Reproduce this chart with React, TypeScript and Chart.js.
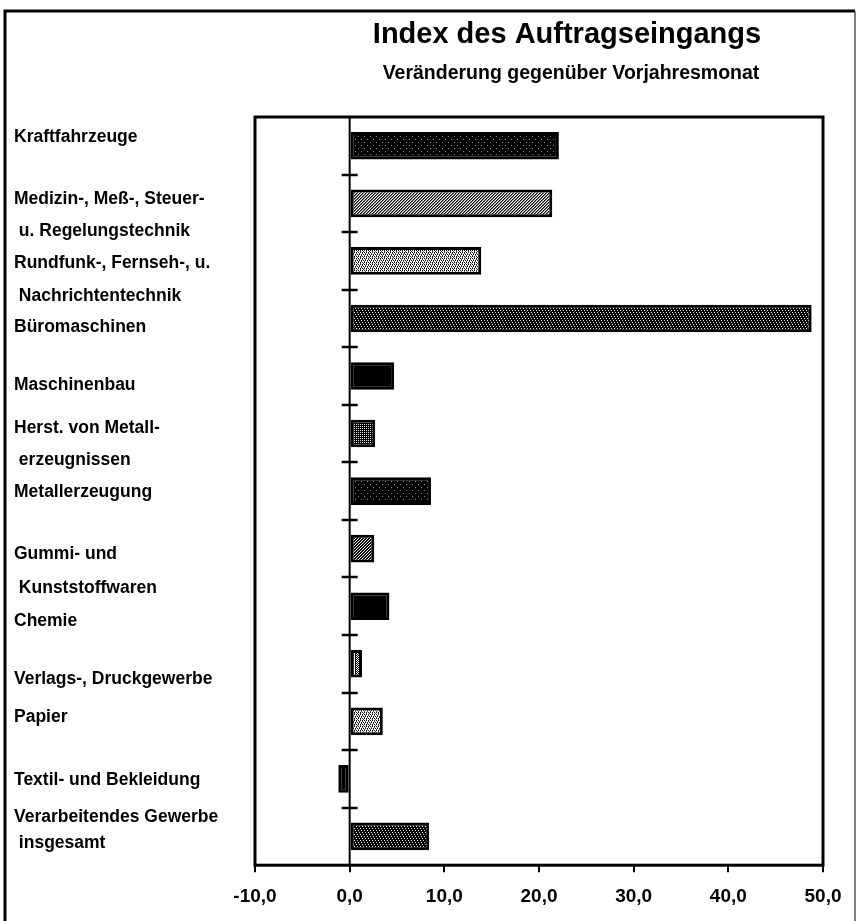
import React, { useEffect, useRef } from "react";
import { Chart, registerables } from "chart.js";

Chart.register(...registerables);

// ---- data ----
const categories: string[][] = [
  ["Kraftfahrzeuge"],
  ["Medizin-, Meß-, Steuer-", " u. Regelungstechnik"],
  ["Rundfunk-, Fernseh-, u.", " Nachrichtentechnik"],
  ["Büromaschinen"],
  ["Maschinenbau"],
  ["Herst. von Metall-", " erzeugnissen"],
  ["Metallerzeugung"],
  ["Gummi- und", " Kunststoffwaren"],
  ["Chemie"],
  ["Verlags-, Druckgewerbe"],
  ["Papier"],
  ["Textil- und Bekleidung"],
  ["Verarbeitendes Gewerbe", " insgesamt"],
];
const values = [22.1, 21.4, 13.9, 48.8, 4.7, 2.7, 8.6, 2.6, 4.2, 1.3, 3.5, -1.2, 8.4];
const xTickValues = [-10, 0, 10, 20, 30, 40, 50];
const titleText = "Index des Auftragseingangs";
const subtitleText = "Veränderung gegenüber Vorjahresmonat";

// ---- styles / layout ----
const fillKinds = [
  "darkDots", "hatchLight", "lightDots", "midDots", "solid", "checker",
  "darkDots", "hatchDark", "solid", "checkerLight", "lightDots", "solid", "midDots",
];
// vertical nudge of each category label relative to its bar centre (px), and line gaps
const labelNudge = [-9, -4, 2, 9, 9, -5, 1, 6, 15, 15, -4, 1, -19];
const labelLineGap = [0, 32, 33, 0, 0, 32, 0, 34, 0, 0, 0, 0, 26];
const FONT = '"Liberation Sans", Arial, sans-serif';

function makePattern(ctx: CanvasRenderingContext2D, kind: string): CanvasPattern | string {
  if (kind === "solid") return "#000";
  const c = document.createElement("canvas");
  const s = 6;
  c.width = s;
  c.height = s;
  const p = c.getContext("2d")!;
  const px = (x: number, y: number, col: string) => {
    p.fillStyle = col;
    p.fillRect(x, y, 1, 1);
  };
  const bg = (col: string) => {
    p.fillStyle = col;
    p.fillRect(0, 0, s, s);
  };
  if (kind === "darkDots") {
    bg("#000");
    px(1, 1, "#888");
    px(4, 4, "#888");
  } else if (kind === "midDots") {
    bg("#000");
    px(0, 0, "#fff");
    px(3, 0, "#ccc");
    px(1, 2, "#fff");
    px(4, 2, "#ccc");
    px(2, 4, "#fff");
    px(5, 4, "#ccc");
  } else if (kind === "lightDots") {
    bg("#fff");
    for (let y = 0; y < s; y += 2)
      for (let x = (y / 2) % 2; x < s; x += 2) px(x, y, "#000");
    for (let y = 1; y < s; y += 2)
      for (let x = (y + 1) % 3; x < s; x += 3) px(x, y, "#444");
  } else if (kind === "hatchLight" || kind === "hatchDark") {
    bg("#fff");
    const w = kind === "hatchDark" ? 2 : 1;
    for (let y = 0; y < s; y++)
      for (let x = 0; x < s; x++) {
        const d = (x + y) % 3;
        if (d < w) px(x, y, "#000");
        else if (kind === "hatchLight" && d === 1) px(x, y, "#777");
      }
  } else if (kind === "checker" || kind === "checkerLight") {
    bg("#000");
    const col = kind === "checker" ? "#ddd" : "#fff";
    for (let y = 0; y < s; y++)
      for (let x = 0; x < s; x++) if ((x + y) % 2 === 0 && y % 2 === 0) px(x, y, col);
    if (kind === "checkerLight")
      for (let y = 1; y < s; y += 2) for (let x = 0; x < s; x += 3) px(x, y, "#fff");
  }
  return ctx.createPattern(c, "repeat")!;
}

const decorPlugin = {
  id: "decor",
  beforeDraw(chart: any) {
    const { ctx, width, height } = chart;
    ctx.save();
    ctx.fillStyle = "#fff";
    ctx.fillRect(0, 0, width, height);
    // outer frame
    ctx.strokeStyle = "#000";
    ctx.lineWidth = 3;
    ctx.beginPath();
    ctx.moveTo(5, height + 5);
    ctx.lineTo(5, 11);
    ctx.lineTo(855, 11);
    ctx.stroke();
    ctx.strokeStyle = "#555";
    ctx.lineWidth = 1.5;
    ctx.beginPath();
    ctx.moveTo(855, 11);
    ctx.lineTo(855, height + 5);
    ctx.stroke();
    // titles
    ctx.fillStyle = "#000";
    ctx.textAlign = "center";
    ctx.textBaseline = "alphabetic";
    ctx.font = `bold 29px ${FONT}`;
    ctx.fillText(titleText, 567, 43);
    ctx.font = `bold 19.5px ${FONT}`;
    ctx.fillText(subtitleText, 571, 79);
    ctx.restore();
  },
  beforeDatasetsDraw(chart: any) {
    const { ctx, chartArea } = chart;
    const xs = chart.scales.x;
    const ys = chart.scales.y;
    const x0 = xs.getPixelForValue(0);
    ctx.save();
    ctx.strokeStyle = "#000";
    ctx.lineWidth = 2;
    ctx.beginPath();
    ctx.moveTo(x0, chartArea.top);
    ctx.lineTo(x0, chartArea.bottom);
    ctx.stroke();
    // cross ticks between categories
    ctx.lineWidth = 2.5;
    for (let i = 0; i < categories.length - 1; i++) {
      const y = Math.round(ys.getPixelForValue(i + 0.5));
      ctx.beginPath();
      ctx.moveTo(x0 - 8, y);
      ctx.lineTo(x0 + 8, y);
      ctx.stroke();
    }
    ctx.restore();
  },
  afterDraw(chart: any) {
    const { ctx, chartArea } = chart;
    const ys = chart.scales.y;
    ctx.save();
    ctx.strokeStyle = "#000";
    ctx.lineWidth = 3;
    ctx.strokeRect(chartArea.left, chartArea.top, chartArea.right - chartArea.left, chartArea.bottom - chartArea.top);
    // category labels
    ctx.fillStyle = "#000";
    ctx.textAlign = "left";
    ctx.textBaseline = "middle";
    ctx.font = `bold 17.5px ${FONT}`;
    categories.forEach((lines, i) => {
      const yc = ys.getPixelForValue(i) + labelNudge[i];
      lines.forEach((t, j) => {
        ctx.fillText(t, 14, yc + j * labelLineGap[i]);
      });
    });
    ctx.restore();
  },
};

export default function App() {
  const ref = useRef<HTMLCanvasElement | null>(null);
  useEffect(() => {
    document.body.style.margin = "0";
    const canvas = ref.current!;
    const ctx = canvas.getContext("2d")!;
    const fills = fillKinds.map((k) => makePattern(ctx, k));
    const chart = new Chart(canvas, {
      type: "bar",
      data: {
        labels: categories.map((c) => c.join("")),
        datasets: [
          {
            data: values,
            backgroundColor: fills as any,
            borderColor: "#000",
            borderWidth: 3,
            borderSkipped: false,
            barPercentage: 0.48,
            categoryPercentage: 1,
          },
        ],
      },
      options: {
        indexAxis: "y",
        responsive: false,
        animation: false,
        events: [],
        layout: { padding: { left: 255, top: 117, right: 34, bottom: 0 } },
        plugins: { legend: { display: false }, tooltip: { enabled: false }, title: { display: false } },
        scales: {
          x: {
            type: "linear",
            min: -10,
            max: 50,
            afterBuildTicks: (scale: any) => {
              scale.ticks = xTickValues.map((v) => ({ value: v }));
            },
            border: { display: false },
            grid: {
              display: true,
              drawOnChartArea: false,
              drawTicks: true,
              tickLength: 7,
              color: "#000",
              lineWidth: 2,
            },
            ticks: {
              color: "#000",
              padding: 13,
              maxRotation: 0,
              autoSkip: false,
              font: { family: FONT, size: 19, weight: "bold" },
              callback: (v: any) => Number(v).toFixed(1).replace(".", ","),
            },
          },
          y: {
            type: "category",
            display: false,
          },
        },
      },
      plugins: [decorPlugin],
    });
    return () => chart.destroy();
  }, []);
  return <canvas ref={ref} width={857} height={921} style={{ display: "block" }} />;
}
